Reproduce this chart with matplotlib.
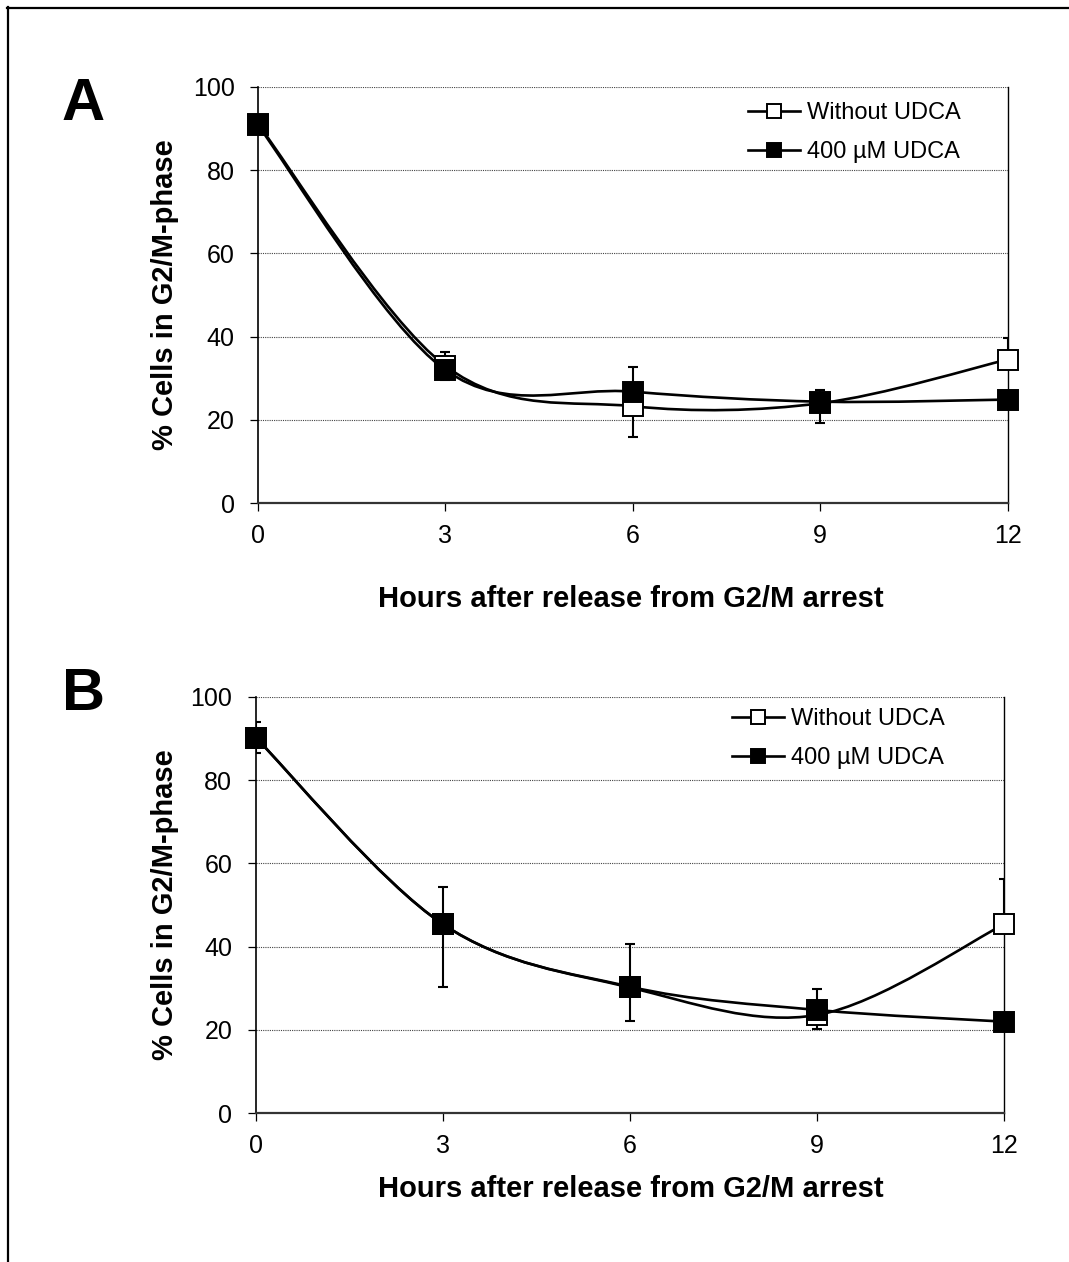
import numpy as np
import matplotlib
matplotlib.use("Agg")
import matplotlib.pyplot as plt
from matplotlib.path import Path
from matplotlib.patches import PathPatch
from matplotlib.lines import Line2D

plt.rcParams['font.family'] = ['Liberation Sans', 'DejaVu Sans']

# data
hours = [0, 3, 6, 9, 12]
labels = ["Without UDCA", "400 \u00b5M UDCA"]

# panel A
a_without = [91, 33, 23.3, 24, 34.5]
a_without_lo = [0, 3.5, 7.3, 4.8, 0]
a_without_hi = [0, 3.2, 0, 0, 5.1]
a_udca = [90.7, 32, 26.8, 24.4, 24.9]
a_udca_lo = [0, 0, 0, 0, 0]
a_udca_hi = [0, 0, 6, 2.8, 0]

# panel B
b_without = [90.2, 45.4, 30.2, 23.6, 45.4]
b_without_lo = [3.8, 15.2, 8, 3.4, 0]
b_without_hi = [3.8, 0, 0, 0, 10.8]
b_udca = [90.2, 45.4, 30.4, 24.8, 22.0]
b_udca_lo = [0, 0, 0, 0, 0]
b_udca_hi = [0, 9, 10.2, 5, 0]

W, H = 1069, 1262


def smooth_path(x, y):
    # excel-like smoothed line: bezier segments with catmull-rom tangents
    pts = np.column_stack([x, y]).astype(float)
    n = len(pts)
    verts = [pts[0]]
    codes = [Path.MOVETO]
    for i in range(n - 1):
        p0 = pts[i - 1] if i > 0 else pts[i]
        p1 = pts[i]
        p2 = pts[i + 1]
        p3 = pts[i + 2] if i + 2 < n else pts[i + 1]
        verts += [p1 + (p2 - p0) / 6, p2 - (p3 - p1) / 6, p2]
        codes += [Path.CURVE4] * 3
    return Path(verts, codes)


def draw_panel(ax, series):
    for y, lo, hi, face in series:
        ax.add_patch(PathPatch(smooth_path(hours, y), fill=False, lw=1.9,
                               ec='black', zorder=3, capstyle='round'))
        eb = ax.errorbar(hours, y, yerr=[lo, hi], fmt='none', ecolor='black',
                         elinewidth=1.5, capsize=3.4, capthick=1.5, zorder=2)
        for art in eb.lines[1] + eb.lines[2]:
            art.set_clip_on(True)
        ax.plot(hours, y, ls='none', marker='s', ms=14.4, mfc=face,
                mec='black', mew=1.4, zorder=4, clip_on=False)

    ax.set_xlim(0, 12)
    ax.set_ylim(0, 100)
    ax.set_xticks(hours)
    ax.set_yticks(range(0, 101, 20))
    ax.tick_params(axis='both', direction='out', length=5.8, width=0.9,
                   labelsize=18, color='black')
    ax.tick_params(axis='y', pad=11)
    ax.tick_params(axis='x', pad=9)
    for y in range(20, 101, 20):
        ax.axhline(y, color='#444444', lw=0.8, ls=(0, (1, 1)), zorder=1)
    ax.spines['top'].set_visible(False)
    ax.spines['left'].set_linewidth(1.2)
    ax.spines['bottom'].set_linewidth(1.6)
    ax.spines['bottom'].set_color('#333333')
    ax.spines['right'].set_linewidth(1.0)


def px(x, y):
    return x / W, 1 - y / H


fig = plt.figure(figsize=(W / 100, H / 100), dpi=100)

ax_a = fig.add_axes([258 / W, 1 - 503.3 / H, 749.5 / W, 416.6 / H])
ax_b = fig.add_axes([255.7 / W, 1 - 1113.3 / H, 748.6 / W, 416.6 / H])

draw_panel(ax_a, [(a_without, a_without_lo, a_without_hi, 'white'),
                  (a_udca, a_udca_lo, a_udca_hi, 'black')])
draw_panel(ax_b, [(b_without, b_without_lo, b_without_hi, 'white'),
                  (b_udca, b_udca_lo, b_udca_hi, 'black')])

handles = [Line2D([], [], color='black', lw=1.9, marker='s', ms=14.4,
                  mfc=f, mec='black', mew=1.4) for f in ('white', 'black')]
for ax, (lx, ly) in ((ax_a, (748, 102)), (ax_b, (731.7, 708))):
    ax.legend(handles, labels, loc='upper left', bbox_to_anchor=px(lx, ly),
              bbox_transform=fig.transFigure, frameon=False, fontsize=17,
              borderpad=0, borderaxespad=0, handlelength=2.2,
              handletextpad=0.3, labelspacing=0.73, markerscale=0.7)

# axis titles and panel letters
for cy, ly, letter_y, letter in ((295, 599, 105, 'A'), (905, 1189, 695, 'B')):
    fig.text(*px(165, cy), "% Cells in G2/M-phase", rotation=90,
             fontsize=21, fontweight='bold', ha='center', va='center')
    fig.text(*px(631, ly), "Hours after release from G2/M arrest",
             fontsize=21, fontweight='bold', ha='center', va='center')
    fig.text(*px(83, letter_y), letter, fontsize=43, fontweight='bold',
             ha='center', va='center')

# outer frame (top and left only)
fig.add_artist(Line2D([7 / W, 1], [1 - 8 / H, 1 - 8 / H], color='black',
                      lw=1.6, transform=fig.transFigure))
fig.add_artist(Line2D([8 / W, 8 / W], [0, 1 - 7 / H], color='black',
                      lw=1.6, transform=fig.transFigure))

fig.savefig("out.png", dpi=100)
